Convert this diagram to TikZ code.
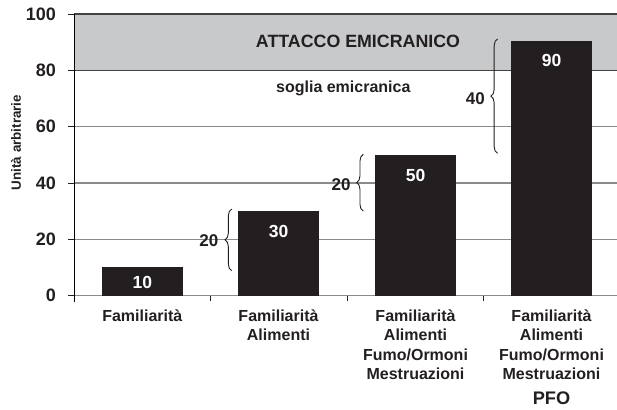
\documentclass[tikz,border=0pt]{standalone}
\usepackage{fontspec}
\setmainfont{Liberation Sans}
\usetikzlibrary{decorations.pathreplacing}
\definecolor{ink}{HTML}{231F20}
\definecolor{bandgrey}{HTML}{C8C9CB}
\definecolor{gridgrey}{HTML}{8A8A8A}
\begin{document}
\begin{tikzpicture}[x=1pt,y=-1pt,
  gridline/.style={draw=gridgrey,line width=1.4pt},
  darkline/.style={draw=ink!85,line width=1.4pt},
  barbox/.style={fill=ink,draw=none,minimum width=81pt,inner sep=0pt,anchor=south},
  num/.style={font=\fontsize{18}{20}\selectfont\bfseries,text=ink,inner sep=0pt,anchor=east},
  barval/.style={font=\fontsize{17.5}{20}\selectfont\bfseries,text=white,inner sep=0pt},
  bracelab/.style={font=\fontsize{17}{20}\selectfont\bfseries,text=ink,inner sep=0pt,anchor=east},
  catlab/.style={font=\fontsize{16}{19.3}\selectfont\bfseries,text=ink,inner sep=0pt,align=center,anchor=north},
  bracestyle/.style={draw=ink,line width=0.9pt,decorate,decoration={brace,amplitude=6.7pt}},
  tickline/.style={draw=ink,line width=0.9pt}
]
\useasboundingbox (0,0) rectangle (617,409);
% band
\fill[bandgrey] (74,14) rectangle (617,70.3);
% grid
\draw[gridline] (74,239.4) -- (617,239.4);
\draw[gridline] (74,183) -- (617,183);
\draw[gridline] (74,126.7) -- (617,126.7);
\draw[darkline] (74,70.3) -- (617,70.3);
\draw[darkline] (74,14) -- (617,14);
\draw[gridline] (74,295.7) -- (617,295.7);
% y ticks
\foreach \yy in {14,70.3,126.7,183,239.4,295.7} \draw[tickline] (68,\yy) -- (74,\yy);
% x ticks
\foreach \xx in {210.6,347,483.6} \draw[tickline] (\xx,295.7) -- (\xx,301);
\draw[draw=black,line width=1pt] (74,14) -- (74,301.5);
% axis numbers
\node[num] (n0) at (56,295.7) {0};
\node[num] (n20) at (56,239.4) {20};
\node[num] (n40) at (56,183) {40};
\node[num] (n60) at (56,126.7) {60};
\node[num] (n80) at (56,70.3) {80};
\node[num] (n100) at (56,14) {100};
\node[rotate=90,font=\fontsize{13.4}{15}\selectfont\bfseries,text=ink,inner sep=0pt] (ylab) at (16,142.5) {Unità arbitrarie};
% band texts
\node[font=\fontsize{17.8}{20}\selectfont\bfseries,text=ink,inner sep=0pt] (attacco) at (358,41) {ATTACCO EMICRANICO};
\node[font=\fontsize{16}{18}\selectfont\bfseries,text=ink,inner sep=0pt] (soglia) at (343.3,88.5) {soglia emicranica};
% bars
\node[barbox,minimum height=28.2pt] (bar1) at (142.3,295.7) {};
\node[barbox,minimum height=84.5pt] (bar2) at (278.5,295.7) {};
\node[barbox,minimum height=140.9pt] (bar3) at (415.5,295.7) {};
\node[barbox,minimum height=254.5pt] (bar4) at (551.5,295.7) {};
\node[barval] (v1) at (142.3,282) {10};
\node[barval] (v2) at (278.5,231.7) {30};
\node[barval] (v3) at (415.5,175) {50};
\node[barval] (v4) at (551.5,60) {90};
% braces
\coordinate (b2s) at (231.7,270.7); \coordinate (b2e) at (231.7,209);
\coordinate (b3s) at (363.3,211); \coordinate (b3e) at (363.3,154.3);
\coordinate (b4s) at (497.5,153.3); \coordinate (b4e) at (497.5,39);
\draw[bracestyle] (b2s) -- (b2e);
\draw[bracestyle] (b3s) -- (b3e);
\draw[bracestyle] (b4s) -- (b4e);
\node[bracelab] (d2) at (218.5,240.5) {20};
\node[bracelab] (d3) at (350.8,184.5) {20};
\node[bracelab] (d4) at (485,98.3) {40};
% category labels
\node[catlab] (c1) at (142.3,309.6) {Familiarità};
\node[catlab] (c2) at (278.5,309.6) {Familiarità\\Alimenti};
\node[catlab] (c3) at (415.5,309.6) {Familiarità\\Alimenti\\Fumo/Ormoni\\Mestruazioni};
\node[catlab] (c4) at (551.5,309.6) {Familiarità\\Alimenti\\Fumo/Ormoni\\Mestruazioni\\[5.4pt]{\fontsize{18.2}{20}\selectfont PFO}};
\end{tikzpicture}
\end{document}
